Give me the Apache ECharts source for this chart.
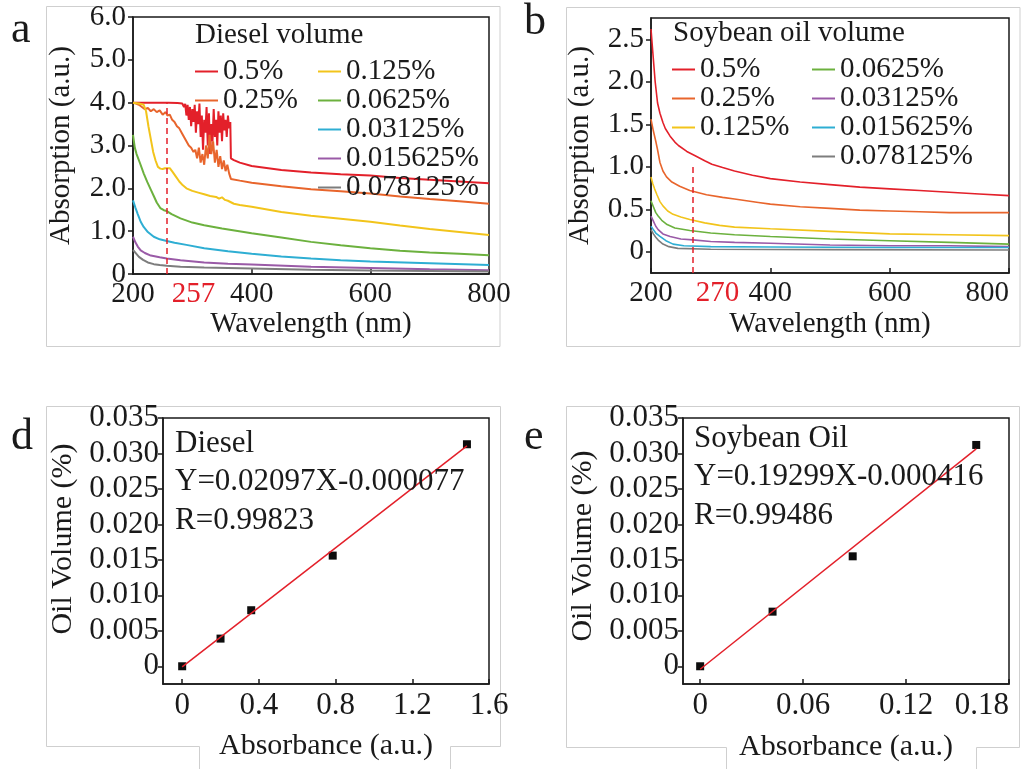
<!DOCTYPE html>
<html>
<head>
<meta charset="utf-8">
<title>UV absorption of diesel and soybean oil</title>
<script src="https://cdn.jsdelivr.net/npm/echarts@6/dist/echarts.min.js"></script>
<style>
  html, body { margin: 0; padding: 0; background: #ffffff; }
  #chart { width: 1024px; height: 769px; }
</style>
</head>
<body>
<div id="chart"></div>
<script>
// ---------- (a) diesel absorption spectra: [wavelength nm, absorption a.u.] ----------
const dieselLabels = ['0.5%', '0.25%', '0.125%', '0.0625%', '0.03125%', '0.015625%', '0.078125%'];
const dieselColors = ['#e3202a', '#e8652c', '#f2c41b', '#6cb13e', '#2eaed3', '#9a5aa7', '#7d7d7d'];

const diesel_0_5 = [[200,4.0],[220,4.0],[240,4.0],[260,4.0],[275,3.99],[283,3.98],[286,3.9],[288,3.97],[290,3.7],[292,3.95],[294,3.6],[296,3.9],[298,3.45],[300,3.85],[302,3.55],[304,3.95],[306,3.3],[308,3.8],[310,3.5],[312,3.98],[314,3.2],[316,3.7],[318,2.9],[320,3.6],[322,3.3],[324,3.9],[326,3.0],[328,3.75],[330,2.8],[332,3.5],[334,3.1],[336,3.85],[338,3.2],[340,3.6],[342,3.0],[344,3.8],[346,3.3],[348,3.7],[350,3.1],[352,3.75],[354,3.35],[356,3.6],[358,3.2],[360,3.7],[362,3.4],[364,3.55],[365,2.7],[370,2.66],[380,2.6],[400,2.52],[450,2.43],[500,2.37],[550,2.33],[600,2.3],[650,2.24],[700,2.2],[750,2.16],[800,2.12]];
const diesel_0_25 = [[200,4.0],[205,3.98],[210,3.95],[215,3.9],[220,3.85],[225,3.88],[230,3.8],[235,3.85],[240,3.78],[245,3.82],[250,3.72],[255,3.78],[258,3.7],[262,3.72],[266,3.6],[270,3.55],[274,3.45],[278,3.4],[282,3.3],[286,3.2],[290,3.1],[294,3.0],[298,2.95],[302,2.85],[305,2.9],[308,2.7],[311,2.95],[314,2.6],[317,2.8],[320,2.55],[323,3.0],[326,2.7],[329,3.25],[332,2.8],[335,3.1],[338,2.6],[341,2.9],[344,2.5],[347,2.75],[350,2.45],[353,2.65],[356,2.4],[359,2.55],[362,2.35],[365,2.22],[380,2.18],[400,2.13],[450,2.05],[500,1.98],[550,1.93],[600,1.88],[650,1.81],[700,1.75],[750,1.7],[800,1.64]];
const diesel_0_125 = [[200,4.0],[210,3.98],[218,3.95],[222,3.8],[226,3.45],[230,3.15],[234,2.85],[238,2.65],[242,2.5],[246,2.46],[250,2.45],[254,2.47],[257,2.5],[262,2.47],[267,2.38],[272,2.28],[278,2.16],[284,2.07],[290,2.0],[300,1.94],[310,1.9],[320,1.86],[330,1.82],[340,1.8],[345,1.76],[350,1.79],[355,1.73],[360,1.71],[370,1.64],[380,1.61],[400,1.57],[450,1.45],[500,1.36],[550,1.29],[600,1.22],[650,1.13],[700,1.05],[750,0.98],[800,0.91]];
const diesel_0_0625 = [[200,3.25],[203,2.95],[206,2.8],[212,2.58],[218,2.35],[224,2.15],[230,1.97],[235,1.82],[240,1.67],[246,1.54],[252,1.49],[257,1.47],[265,1.4],[280,1.3],[300,1.2],[320,1.14],[350,1.06],[400,0.95],[450,0.85],[500,0.75],[550,0.67],[600,0.6],[650,0.54],[700,0.5],[750,0.47],[800,0.44]];
const diesel_0_03125 = [[200,1.72],[204,1.55],[208,1.4],[213,1.22],[218,1.1],[225,0.98],[235,0.87],[245,0.81],[257,0.77],[270,0.73],[290,0.68],[320,0.6],[360,0.53],[400,0.47],[450,0.41],[500,0.36],[550,0.32],[600,0.29],[700,0.25],[800,0.21]];
const diesel_0_015625 = [[200,0.87],[204,0.74],[208,0.64],[213,0.55],[220,0.49],[230,0.43],[245,0.39],[257,0.36],[280,0.32],[320,0.27],[360,0.24],[400,0.22],[500,0.17],[600,0.14],[700,0.11],[800,0.09]];
const diesel_0_078125 = [[200,0.56],[205,0.48],[210,0.4],[217,0.33],[225,0.27],[235,0.23],[245,0.21],[257,0.19],[280,0.17],[320,0.15],[400,0.13],[500,0.1],[600,0.08],[700,0.07],[800,0.06]];
const dieselCurves = [diesel_0_5, diesel_0_25, diesel_0_125, diesel_0_0625, diesel_0_03125, diesel_0_015625, diesel_0_078125];
const dieselPeak = 257;        // characteristic wavelength, nm
const dieselPeakTop = 4.0;     // dashed marker height
const dieselYTicks = [0, 1, 2, 3, 4, 5, 6];
const wavelengthTicks = [200, 400, 600, 800];

// ---------- (b) soybean oil absorption spectra ----------
const soyLabels = ['0.5%', '0.25%', '0.125%', '0.0625%', '0.03125%', '0.015625%', '0.078125%'];
const soyColors = ['#e3202a', '#e8652c', '#f2c41b', '#6cb13e', '#9a5aa7', '#2eaed3', '#7d7d7d'];

const soy_0_5 = [[200,2.62],[203,2.35],[207,2.0],[211,1.75],[215,1.63],[220,1.52],[224,1.45],[232,1.36],[240,1.29],[246,1.25],[260,1.18],[274,1.13],[290,1.07],[302,1.03],[320,0.99],[340,0.95],[370,0.9],[400,0.86],[450,0.82],[500,0.79],[550,0.76],[600,0.74],[650,0.72],[700,0.7],[750,0.68],[800,0.66]];
const soy_0_25 = [[200,1.56],[204,1.42],[208,1.3],[211,1.2],[215,1.05],[220,0.95],[226,0.88],[235,0.82],[248,0.77],[265,0.72],[293,0.67],[320,0.64],[340,0.62],[380,0.58],[400,0.56],[450,0.53],[500,0.51],[550,0.49],[600,0.48],[650,0.47],[700,0.46],[750,0.46],[800,0.46]];
const soy_0_125 = [[200,0.88],[203,0.8],[206,0.74],[210,0.67],[215,0.59],[220,0.54],[228,0.48],[237,0.44],[250,0.41],[265,0.38],[290,0.34],[315,0.31],[340,0.29],[400,0.27],[500,0.24],[600,0.21],[700,0.2],[800,0.19]];
const soy_0_0625 = [[200,0.6],[204,0.53],[208,0.46],[212,0.42],[218,0.37],[227,0.32],[240,0.28],[265,0.25],[300,0.22],[340,0.2],[400,0.18],[500,0.15],[600,0.13],[700,0.11],[800,0.09]];
const soy_0_03125 = [[200,0.42],[204,0.36],[208,0.3],[212,0.26],[220,0.21],[232,0.18],[250,0.15],[270,0.14],[300,0.12],[340,0.11],[400,0.1],[500,0.08],[600,0.07],[700,0.07],[800,0.06]];
const soy_0_015625 = [[200,0.3],[204,0.26],[208,0.22],[215,0.18],[225,0.13],[237,0.09],[255,0.07],[300,0.06],[400,0.055],[600,0.05],[800,0.05]];
const soy_0_078125 = [[200,0.26],[204,0.21],[208,0.17],[213,0.13],[220,0.09],[230,0.06],[245,0.04],[300,0.03],[500,0.025],[800,0.02]];
const soyCurves = [soy_0_5, soy_0_25, soy_0_125, soy_0_0625, soy_0_03125, soy_0_015625, soy_0_078125];
const soyPeak = 270;
const soyPeakTop = 1.0;
const soyYTicks = [0, 0.5, 1.0, 1.5, 2.0, 2.5];

// ---------- (d) diesel calibration ----------
const dieselAbs = [0, 0.2, 0.36, 0.785, 1.485];
const dieselVol = [0, 0.0039, 0.0079, 0.0156, 0.0313];
const dieselSlope = 0.02097, dieselIntercept = -0.000077, dieselR = '0.99823';
const dieselXTicks = [0, 0.4, 0.8, 1.2, 1.6];

// ---------- (e) soybean oil calibration ----------
const soyAbs = [0, 0.0422, 0.0889, 0.1609];
const soyVol = [0, 0.0077, 0.0155, 0.0312];
const soySlope = 0.19299, soyIntercept = -0.000416, soyR = '0.99486';
const soyXTicks = [0, 0.06, 0.12, 0.18];
const volumeTicks = [0, 0.005, 0.010, 0.015, 0.020, 0.025, 0.030, 0.035];

// ---------- styling ----------
const SERIF = '"Liberation Serif", "Times New Roman", Times, serif';
const INK = '#1a1a1a';
const PEAK_RED = '#e3202a';
const FRAME_GRAY = '#cfcfcf';
const FS_TOP = 29;     // text size, spectra panels
const FS_BOTTOM = 31;  // text size, calibration panels

const fmtFixed = d => v => (v === 0 ? '0' : v.toFixed(d));

function makeAxis(gridIndex, min, max, ticks, fmt, o) {
  return {
    type: 'value', gridIndex, min, max,
    name: o.name, nameLocation: 'middle', nameGap: o.nameGap,
    nameTextStyle: { fontFamily: SERIF, fontSize: o.nameSize, color: INK, padding: o.namePad || 0 },
    axisLine: { show: true, onZero: false, lineStyle: { color: INK, width: 1.5 } },
    axisTick: { show: true, customValues: ticks, inside: !!o.tickInside, length: 5,
                lineStyle: { color: INK, width: 1.5 } },
    axisLabel: { customValues: ticks, formatter: fmt, fontFamily: SERIF, fontSize: o.labelSize,
                 color: INK, margin: o.margin, alignMaxLabel: o.alignMax || null },
    splitLine: { show: false }
  };
}

const legendBase = {
  orient: 'vertical', padding: 0, icon: 'rect', itemWidth: 23, itemHeight: 2,
  itemGap: 0, itemTextGap: 6, selectedMode: false,
  formatter: n => n.replace(/^\S+ /, '')
};
const legendText = lh => ({ fontFamily: SERIF, fontSize: FS_TOP, color: INK, lineHeight: lh });

function spectrumSeries(prefix, labels, colors, curves, grid, width, peak, peakBottom, peakTop) {
  return curves.map((pts, i) => {
    const s = {
      type: 'line', name: prefix + ' ' + labels[i], xAxisIndex: grid, yAxisIndex: grid,
      data: pts, symbol: 'none', showSymbol: false,
      lineStyle: { color: colors[i], width }, itemStyle: { color: colors[i] }
    };
    if (i === curves.length - 1) {
      s.markLine = {
        silent: true, symbol: ['none', 'none'], label: { show: false },
        lineStyle: { color: PEAK_RED, type: [6, 4], width: 1.5 },
        data: [[{ coord: [peak, peakBottom] }, { coord: [peak, peakTop] }]]
      };
    }
    return s;
  });
}

function calibrationSeries(grid, xs, ys, slope, intercept) {
  const xEnd = Math.max.apply(null, xs);
  return [
    { type: 'line', xAxisIndex: grid, yAxisIndex: grid, symbol: 'none',
      lineStyle: { color: PEAK_RED, width: 1.5 },
      data: [[0, intercept], [xEnd, slope * xEnd + intercept]] },
    { type: 'scatter', xAxisIndex: grid, yAxisIndex: grid, symbol: 'rect', symbolSize: 8,
      itemStyle: { color: '#0d0d0d', opacity: 1 }, data: xs.map((x, i) => [x, ys[i]]) }
  ];
}

function txt(text, x, y, size, color, align) {
  return { type: 'text', x, y, z: 100, silent: true,
           style: { text, fontFamily: SERIF, fontSize: size, fill: color || INK,
                    align: align || 'left', verticalAlign: 'middle' } };
}

const gridBox = { show: true, borderColor: INK, borderWidth: 1.5, backgroundColor: 'transparent',
                  containLabel: false, outerBoundsMode: 'none' };

const option = {
  animation: false,
  backgroundColor: '#ffffff',
  grid: [
    Object.assign({ left: 133, top: 17, width: 356, height: 257 }, gridBox),
    Object.assign({ left: 651, top: 18, width: 358, height: 255 }, gridBox),
    Object.assign({ left: 163, top: 418, width: 326, height: 266 }, gridBox),
    Object.assign({ left: 683, top: 418, width: 326, height: 266 }, gridBox)
  ],
  xAxis: [
    makeAxis(0, 200, 800, wavelengthTicks, v => String(v),
      { name: 'Wavelength (nm)', nameGap: 36, nameSize: FS_TOP, labelSize: FS_TOP, margin: 6, tickInside: true }),
    makeAxis(1, 200, 800, wavelengthTicks, v => String(v),
      { name: 'Wavelength (nm)', nameGap: 37, nameSize: FS_TOP, labelSize: FS_TOP, margin: 6, tickInside: true, alignMax: 'right' }),
    makeAxis(2, -0.1, 1.6, dieselXTicks, v => String(v),
      { name: 'Absorbance (a.u.)', nameGap: 47, nameSize: 30, labelSize: FS_BOTTOM, margin: 6, tickInside: true }),
    makeAxis(3, -0.01, 0.18, soyXTicks, fmtFixed(2),
      { name: 'Absorbance (a.u.)', nameGap: 48, nameSize: 30, labelSize: FS_BOTTOM, margin: 6, tickInside: true, alignMax: 'right' })
  ],
  yAxis: [
    makeAxis(0, 0, 6, dieselYTicks, fmtFixed(1),
      { name: 'Absorption (a.u.)', nameGap: 57, nameSize: FS_TOP, labelSize: FS_TOP, margin: 7 }),
    makeAxis(1, -0.25, 2.75, soyYTicks, fmtFixed(1),
      { name: 'Absorption (a.u.)', nameGap: 56, nameSize: FS_TOP, labelSize: FS_TOP, margin: 7 }),
    makeAxis(2, -0.0025, 0.035, volumeTicks, fmtFixed(3),
      { name: 'Oil Volume (%)', nameGap: 85, nameSize: 30, labelSize: FS_BOTTOM, margin: 4, namePad: [0, 0, 0, 24] }),
    makeAxis(3, -0.0025, 0.035, volumeTicks, fmtFixed(3),
      { name: 'Oil Volume (%)', nameGap: 85, nameSize: 30, labelSize: FS_BOTTOM, margin: 4, namePad: [0, 0, 0, 10] })
  ],
  legend: [
    Object.assign({ left: 195, top: 57, textStyle: legendText(23),
      data: dieselLabels.slice(0, 2).map(l => 'Diesel ' + l) }, legendBase),
    Object.assign({ left: 318, top: 57, textStyle: legendText(23),
      data: dieselLabels.slice(2).map(l => 'Diesel ' + l) }, legendBase),
    Object.assign({ left: 672, top: 55, textStyle: legendText(26),
      data: soyLabels.slice(0, 3).map(l => 'Soybean ' + l) }, legendBase),
    Object.assign({ left: 812, top: 55, textStyle: legendText(26),
      data: soyLabels.slice(3).map(l => 'Soybean ' + l) }, legendBase)
  ],
  series: [].concat(
    spectrumSeries('Diesel', dieselLabels, dieselColors, dieselCurves, 0, 2, dieselPeak, 0, dieselPeakTop),
    spectrumSeries('Soybean', soyLabels, soyColors, soyCurves, 1, 1.6, soyPeak, -0.25, soyPeakTop),
    calibrationSeries(2, dieselAbs, dieselVol, dieselSlope, dieselIntercept),
    calibrationSeries(3, soyAbs, soyVol, soySlope, soyIntercept)
  )
};

const chart = echarts.init(document.getElementById('chart'), null, { renderer: 'canvas' });
chart.setOption(option);

// Panel outlines, panel letters, legend titles and fit annotations
const frames = [
  { type: 'rect', shape: { x: 46.5, y: 6.5, width: 453.5, height: 340 },
    style: { fill: null, stroke: FRAME_GRAY, lineWidth: 1 }, silent: true, z: 0 },
  { type: 'rect', shape: { x: 566.5, y: 7.5, width: 453.5, height: 339 },
    style: { fill: null, stroke: FRAME_GRAY, lineWidth: 1 }, silent: true, z: 0 },
  { type: 'polyline', shape: { points: [[199.5, 769], [199.5, 746.5], [46.5, 746.5], [46.5, 406.5], [500.5, 406.5], [500.5, 746.5], [450.5, 746.5], [450.5, 769]] },
    style: { fill: null, stroke: FRAME_GRAY, lineWidth: 1 }, silent: true, z: 0 },
  { type: 'polyline', shape: { points: [[726.5, 769], [726.5, 747.5], [566.5, 747.5], [566.5, 406.5], [1019.5, 406.5], [1019.5, 747.5], [976.5, 747.5], [976.5, 769]] },
    style: { fill: null, stroke: FRAME_GRAY, lineWidth: 1 }, silent: true, z: 0 }
];

const peakA = chart.convertToPixel({ gridIndex: 0 }, [dieselPeak, 0]);
const peakB = chart.convertToPixel({ gridIndex: 1 }, [soyPeak, -0.25]);

const texts = [
  txt('a', 11, 30, 44), txt('b', 524, 22, 44), txt('d', 11, 437, 44), txt('e', 524, 437, 44),
  txt('Diesel volume', 195, 35, FS_TOP),
  txt('Soybean oil volume', 673, 33, FS_TOP),
  txt('Diesel', 175, 444, FS_BOTTOM),
  txt('Y=' + dieselSlope + 'X' + dieselIntercept.toFixed(6), 175, 482, FS_BOTTOM),
  txt('R=' + dieselR, 175, 521, FS_BOTTOM),
  txt('Soybean Oil', 694, 439, FS_BOTTOM),
  txt('Y=' + soySlope + 'X' + soyIntercept.toFixed(6), 694, 477, FS_BOTTOM),
  txt('R=' + soyR, 694, 516, FS_BOTTOM),
  txt(String(dieselPeak), peakA[0] + 5, peakA[1] + 20, FS_TOP, PEAK_RED),
  txt(String(soyPeak), peakB[0] + 3, peakB[1] + 20, FS_TOP, PEAK_RED)
];

chart.setOption({ graphic: { elements: frames.concat(texts) } });
</script>
</body>
</html>
